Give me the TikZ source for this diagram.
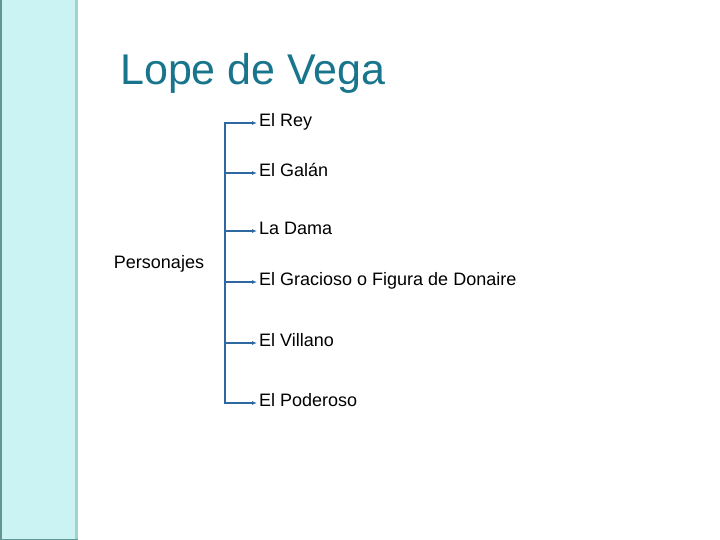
\documentclass[tikz,border=0pt]{standalone}
\usepackage{fontspec}
\setmainfont{Liberation Sans}
\usetikzlibrary{arrows.meta,positioning}
\definecolor{panelcyan}{RGB}{204,243,244}
\definecolor{paneledge}{RGB}{96,150,150}
\definecolor{panelside}{RGB}{160,208,208}
\definecolor{titleteal}{RGB}{24,117,140}
\definecolor{branchblue}{RGB}{46,104,160}

\begin{document}
\begin{tikzpicture}[x=1pt,y=-1pt,>={Latex[length=5pt,width=4pt]},
  item/.style={anchor=west,inner sep=2pt,font=\fontsize{18}{20}\selectfont,
    text height=1.5ex,text depth=.25ex},
  branch/.style={branchblue,line width=1.3pt,->}]

\useasboundingbox (0,0) rectangle (720,540);

%% ── left side panel ─────────────────────────────────────────────────────────
\fill[panelcyan] (0,0) rectangle (78,540);
\fill[panelside] (75,0) rectangle (78,540);
\fill[paneledge] (0,0) rectangle (1.5,540);
\fill[paneledge] (0,538.5) rectangle (78,540);

%% ── title ───────────────────────────────────────────────────────────────────
\node[anchor=west,inner sep=0,font=\fontsize{43}{47}\selectfont,titleteal]
  (title) at (120,73) {Lope de Vega};

%% ── root and items ──────────────────────────────────────────────────────────
\node[item,anchor=center] (root) at (159,265) {Personajes};
\node[item] (rey)      at (257,123) {El Rey};
\node[item] (galan)    at (257,173) {El Galán};
\node[item] (dama)     at (257,231) {La Dama};
\node[item] (gracioso) at (257,282) {El Gracioso o Figura de Donaire};
\node[item] (villano)  at (257,343) {El Villano};
\node[item] (poderoso) at (257,403) {El Poderoso};

%% ── branches ────────────────────────────────────────────────────────────────
\coordinate (spine) at (225,265);
\foreach \n in {rey,galan,dama,gracioso,villano,poderoso}
  \draw[branch] (spine) |- (\n.west);

\end{tikzpicture}
\end{document}
